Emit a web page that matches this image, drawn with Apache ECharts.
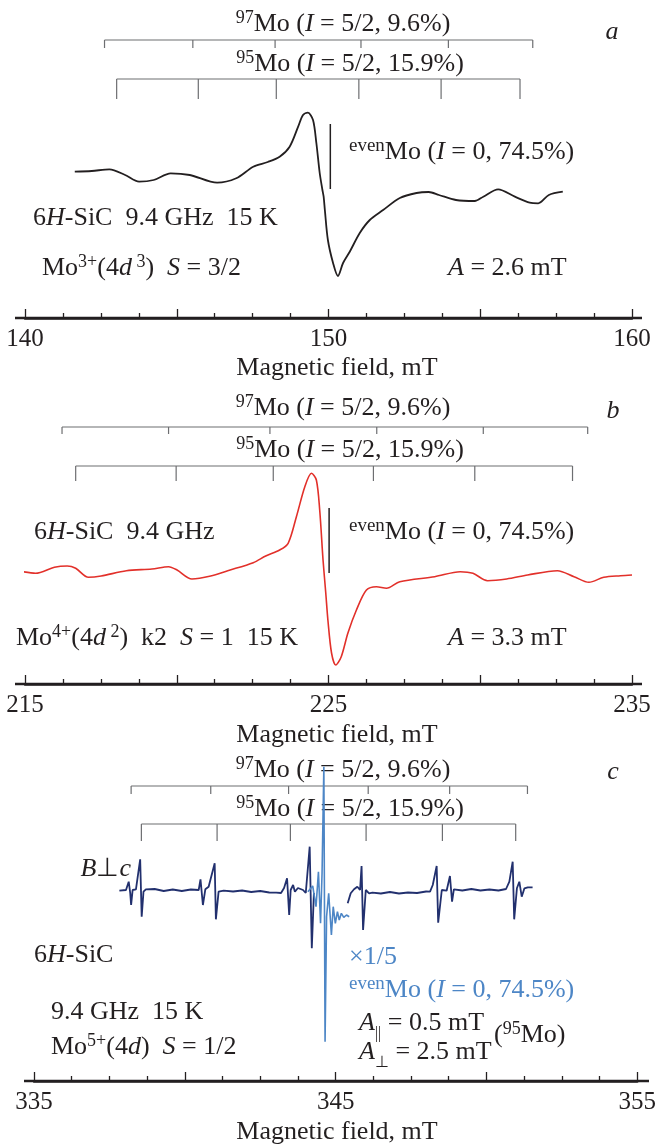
<!DOCTYPE html>
<html>
<head>
<meta charset="utf-8">
<script src="https://cdn.jsdelivr.net/npm/echarts@6/dist/echarts.min.js"></script>
<style>
  html, body { margin: 0; padding: 0; background: #fff; }
  #container { width: 659px; height: 1146px; }
</style>
</head>
<body>
<div id="container"></div>
<script>
// panel a: Mo3+ spectrum (field in mT, signal in arb. units)
const fieldA = [141.64, 142.2, 142.78, 143.3, 143.76, 144.24, 144.8, 145.43, 146.33, 146.96,
  147.52, 148.0, 148.39, 148.72, 149.0, 149.16, 149.32, 149.49, 149.6, 149.71,
  149.8, 149.84, 149.88, 149.98, 150.15, 150.31, 150.48, 150.7, 151.03, 151.36,
  151.8, 152.35, 152.9, 153.3, 153.64, 154.2, 154.82, 155.1, 155.59, 156.14,
  156.63, 156.91, 157.26, 157.72];
const signalA = [0.3, 1, 2.7, -3, -9.7, -8, -1.3, -3, -10.7, -6.3,
  5.3, 10, 15.3, 25.3, 45.3, 57, 59.3, 52, 29, -1,
  -18, -24.7, -38, -68, -91, -104, -91, -79.7, -61, -48,
  -38, -26, -21, -20, -23, -28, -29, -24.7, -17.3, -24.7,
  -30.7, -31.3, -23, -19.7];

// panel b: Mo4+ spectrum
const fieldB = [214.93, 215.35, 215.97, 216.39, 216.67, 217.09, 217.51, 218.34, 219.18, 219.73,
  220.01, 220.5, 221.12, 221.68, 222.52, 222.93, 223.39, 223.67, 223.94, 224.22,
  224.44, 224.6, 224.71, 224.82, 224.91, 224.98, 225.1, 225.24, 225.42, 225.64,
  225.92, 226.25, 226.58, 226.91, 227.35, 228.5, 229.34, 229.76, 230.24, 230.87,
  231.56, 232.54, 233.09, 233.58, 234.07, 234.62, 235.0];
const signalB = [0.3, -1.3, 4.7, 6, 3.7, -5.3, -4, 1.3, 3, 5.3,
  2, -7, -4, 1.3, 9.3, 16, 22, 28.7, 55, 85.3,
  98.7, 92, 62, 12, -21, -48, -81, -93, -84.7, -61,
  -38, -18, -14.7, -16.3, -9.7, -4.7, 0.3, -1.3, -8.7, -7,
  -3, 1.3, -4.7, -10.3, -5.3, -3.7, -3];

// panel c: Mo5+ spectrum, B perp c (dark trace, left part)
const fieldC1 = [337.83, 338.05, 338.14, 338.19, 338.22, 338.27, 338.38, 338.52, 338.57, 338.63,
  338.71, 339.0, 339.3, 339.6, 339.9, 340.2, 340.46, 340.52, 340.6, 340.68,
  340.79, 340.99, 341.03, 341.12, 341.29, 341.6, 341.9, 342.2, 342.5, 342.8,
  343.03, 343.19, 343.29, 343.39, 343.46, 343.51, 343.59, 343.65, 343.75, 343.92,
  344.01, 344.14, 344.21, 344.28];
const signalC1 = [-0.7, 0, 8.3, -3, -15, 0, 0.7, 30.7, -26.7, -1.7,
  0.7, 1, -1, 0.5, -1, 0.5, 0, 10.7, -15, 0.7,
  3.3, 26.7, -29.3, -1.7, -0.7, -1.5, -0.5, -2, -1, -2.5,
  -2.7, -3, 2, 11.7, -25, 0, 5, -1.7, 2, 0,
  -3, 43.3, -58.3, -3];

// central even-Mo line, scaled x1/5 (light trace)
const fieldC2 = [344.08, 344.24, 344.35, 344.43, 344.5, 344.55, 344.61, 344.65, 344.7, 344.77,
  344.86, 344.92, 344.99, 345.06, 345.12, 345.19, 345.27, 345.36, 345.45];
const signalC2 = [-1.7, 4, -16.7, 18.3, -33.3, 16.7, 123.3, -151.7, -26.7, -3.3,
  -45, -16.7, -33.3, -21.7, -30, -23.3, -27.3, -25, -26.7];

// dark trace, right part
const fieldC3 = [345.4, 345.45, 345.5, 345.61, 345.72, 345.81, 345.86, 345.91, 346.0, 346.11,
  346.22, 346.5, 346.8, 347.1, 347.4, 347.7, 348.0, 348.13, 348.22, 348.35,
  348.4, 348.52, 348.68, 348.79, 348.86, 348.92, 349.2, 349.5, 349.8, 350.1,
  350.4, 350.65, 350.76, 350.87, 350.92, 351.01, 351.09, 351.17, 351.26, 351.37,
  351.53];
const signalC3 = [-13.3, -8.3, -3.3, 0.7, 3.3, 0, 24, -40, 0, -3.3,
  -2.7, -3.5, -2, -3.5, -2.5, -3, -1.5, -1.7, 5, 24,
  -32.7, 0, -0.7, 14, -11.7, 0.7, -0.5, 1, -0.5, 0.5,
  -0.5, 1, 8.3, 28.3, -29.3, 1.7, 8.3, -6.7, 1.7, 2.7,
  2.7];

// hyperfine stick diagrams (mT)
const mo97A = [142.62, 145.53, 148.24, 151.07, 153.95, 156.73];
const mo95A = [143.02, 145.71, 148.28, 151.0, 153.71, 156.31];
const mo97B = [216.22, 219.73, 223.07, 226.59, 230.1, 233.54];
const mo95B = [216.67, 219.98, 223.18, 226.48, 229.82, 233.04];
const mo97C = [338.22, 340.86, 343.44, 346.08, 348.78, 351.36];
const mo95C = [338.56, 341.07, 343.5, 346.01, 348.54, 350.97];
const evenA = [150.06];
const evenB = [225.02];

// labelled ticks
const ticksA = [140, 150, 160];
const ticksB = [215, 225, 235];
const ticksC = [335, 345, 355];

const SERIF = "Liberation Serif";
const INK = "#231f20";
const BLUE = "#4d86c6";

const myChart = echarts.init(document.getElementById("container"), null, { renderer: "canvas" });

const zip = (xs, ys) => xs.map((x, i) => [x, ys[i]]);

function richSet(color) {
  const base = { fontFamily: SERIF, fill: color };
  return {
    n: { ...base, fontSize: 26, lineHeight: 30 },
    i: { ...base, fontSize: 26, lineHeight: 30, fontStyle: "italic" },
    sup: { ...base, fontSize: 18, lineHeight: 18, verticalAlign: "top" },
    ev: { ...base, fontSize: 19, lineHeight: 19, verticalAlign: "top" },
    sub: { ...base, fontSize: 16, lineHeight: 16, verticalAlign: "bottom" },
    nl: { ...base, fontSize: 26, lineHeight: 38 },
    il: { ...base, fontSize: 26, lineHeight: 38, fontStyle: "italic" },
  };
}

function txt(x, y, text, align, color) {
  return {
    type: "text",
    x: x,
    y: y,
    style: {
      text: text,
      textAlign: align || "left",
      textVerticalAlign: "middle",
      rich: richSet(color || INK),
    },
  };
}

function axisLine(x1, x2, y) {
  return {
    type: "line",
    shape: { x1: x1, y1: y, x2: x2, y2: y },
    style: { stroke: INK, lineWidth: 2.5 },
  };
}

const mo97 = "{sup|97}{n|Mo (}{i|I}{n| = 5/2, 9.6%)}";
const mo95 = "{sup|95}{n|Mo (}{i|I}{n| = 5/2, 15.9%)}";
const evenTxt = "{ev|even}{n|Mo (}{i|I}{n| = 0, 74.5%)}";
const fieldTxt = "{n|Magnetic field, mT}";

const graphics = [
  // a
  txt(343, 24, mo97, "center"),
  txt(350, 64, mo95, "center"),
  txt(612, 32, "{i|a}", "center"),
  txt(349, 152, evenTxt),
  txt(33, 218, "{n|6}{i|H}{n|-SiC  9.4 GHz  15 K}"),
  txt(42, 268, "{n|Mo}{sup|3+}{n|(4}{i|d}{sup| 3}{n|)  }{i|S}{n| = 3/2}"),
  txt(448, 268, "{i|A}{n| = 2.6 mT}"),
  txt(337, 368, fieldTxt, "center"),
  axisLine(15, 642, 318),
  // b
  txt(343, 408, mo97, "center"),
  txt(350, 450, mo95, "center"),
  txt(613, 411, "{i|b}", "center"),
  txt(34, 532, "{n|6}{i|H}{n|-SiC  9.4 GHz}"),
  txt(349, 532, evenTxt),
  txt(16, 638, "{n|Mo}{sup|4+}{n|(4}{i|d}{sup| 2}{n|)  k2  }{i|S}{n| = 1  15 K}"),
  txt(448, 638, "{i|A}{n| = 3.3 mT}"),
  txt(337, 735, fieldTxt, "center"),
  axisLine(15, 642, 684),
  // c
  txt(343, 770, mo97, "center"),
  txt(350, 809, mo95, "center"),
  txt(613, 772, "{i|c}", "center"),
  txt(131, 869, "{i|B}{n|⊥}{i|c}", "right"),
  txt(34, 955, "{n|6}{i|H}{n|-SiC}"),
  txt(349, 957, "{n|×1/5}", "left", BLUE),
  txt(349, 990, evenTxt, "left", BLUE),
  txt(51, 1012, "{n|9.4 GHz  15 K}"),
  txt(51, 1047, "{n|Mo}{sup|5+}{n|(4}{i|d}{n|)  }{i|S}{n| = 1/2}"),
  txt(359, 1023, "{il|A}{sub|||}{nl| = 0.5 mT}"),
  txt(359, 1052, "{il|A}{sub|⊥}{nl| = 2.5 mT}"),
  txt(494, 1035, "{n|(}{sup|95}{n|Mo)}"),
  txt(337, 1132, fieldTxt, "center"),
  axisLine(24, 649, 1081),
];

const grids = [
  { left: 25, right: 27, top: 100, height: 218 },
  { left: 25, right: 27, top: 450, height: 234 },
  { left: 34, right: 17, top: 760, height: 321 },
];
const ranges = [[140, 160, ticksA, -146, 72], [215, 235, ticksB, -112, 122], [335, 355, ticksC, -191, 130]];

const xAxes = ranges.map(function (r, i) {
  return {
    type: "value",
    gridIndex: i,
    min: r[0],
    max: r[1],
    interval: 5,
    axisLine: { onZero: false, lineStyle: { color: INK, width: 2.5 } },
    axisTick: { inside: true, length: 9, lineStyle: { color: INK, width: 1.3 } },
    minorTick: { show: true, splitNumber: 4, length: 5, lineStyle: { color: INK, width: 1.3 } },
    splitLine: { show: false },
    axisLabel: {
      margin: 9,
      color: INK,
      fontFamily: SERIF,
      fontSize: 25,
      formatter: function (v) { return r[2].indexOf(v) >= 0 ? String(v) : ""; },
    },
  };
});
const yAxes = ranges.map(function (r, i) {
  return { type: "value", gridIndex: i, min: r[3], max: r[4], show: false };
});

function spectrum(gi, xs, ys, color, width, smooth) {
  return {
    type: "line",
    xAxisIndex: gi,
    yAxisIndex: gi,
    data: zip(xs, ys),
    showSymbol: false,
    smooth: smooth,
    lineStyle: { color: color, width: width },
    silent: true,
    animation: false,
  };
}

// stick diagram: ticks hang down from a horizontal bar
function sticks(gi, pos, yTop, yBot, withBar, color, width) {
  return {
    type: "custom",
    xAxisIndex: gi,
    yAxisIndex: gi,
    clip: false,
    silent: true,
    animation: false,
    data: pos.map(function (v) { return [v, 0]; }),
    renderItem: function (params, api) {
      const x = api.coord([api.value(0), 0])[0];
      const style = { stroke: color, lineWidth: width };
      const children = [{ type: "line", shape: { x1: x, y1: yTop, x2: x, y2: yBot }, style: style }];
      if (withBar && params.dataIndex === 0) {
        const xEnd = api.coord([pos[pos.length - 1], 0])[0];
        children.push({ type: "line", shape: { x1: x, y1: yTop, x2: xEnd, y2: yTop }, style: style });
      }
      return { type: "group", children: children };
    },
  };
}

const GRAY = "#6d6e71";

myChart.setOption({
  backgroundColor: "#fff",
  animation: false,
  grid: grids,
  xAxis: xAxes,
  yAxis: yAxes,
  graphic: graphics,
  series: [
    spectrum(0, fieldA, signalA, INK, 1.8, 0.3),
    spectrum(1, fieldB, signalB, "#e2302a", 1.6, 0.3),
    spectrum(2, fieldC1, signalC1, "#22306e", 1.8, false),
    spectrum(2, fieldC2, signalC2, BLUE, 1.6, false),
    spectrum(2, fieldC3, signalC3, "#22306e", 1.8, false),
    sticks(0, mo97A, 40, 48, true, GRAY, 1.2),
    sticks(0, mo95A, 79, 99, true, GRAY, 1.2),
    sticks(0, evenA, 124, 189, false, INK, 1.5),
    sticks(1, mo97B, 427, 434, true, GRAY, 1.2),
    sticks(1, mo95B, 466, 481, true, GRAY, 1.2),
    sticks(1, evenB, 508, 573, false, INK, 1.5),
    sticks(2, mo97C, 786, 794, true, GRAY, 1.2),
    sticks(2, mo95C, 824, 841, true, GRAY, 1.2),
  ],
});

window.addEventListener("resize", myChart.resize);
</script>
</body>
</html>
